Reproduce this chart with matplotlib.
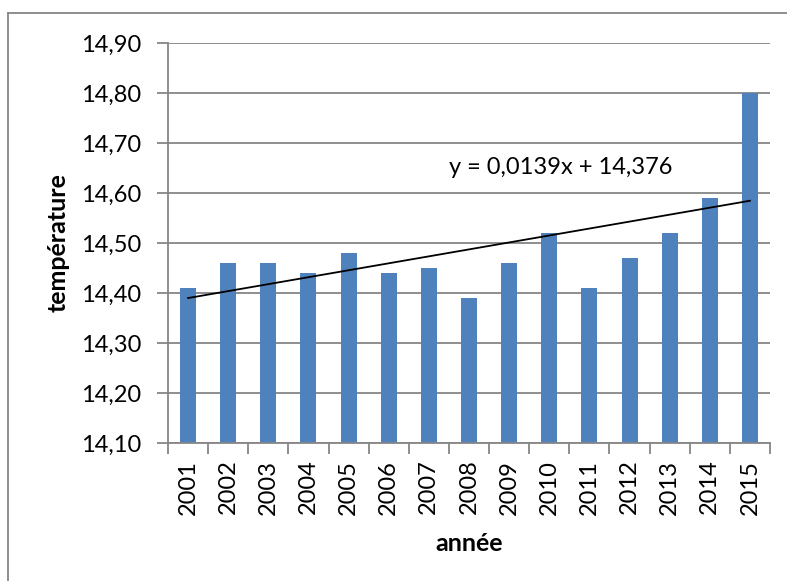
import matplotlib.pyplot as plt
import numpy as np
from matplotlib.lines import Line2D

annees = ['2001', '2002', '2003', '2004', '2005', '2006', '2007', '2008',
          '2009', '2010', '2011', '2012', '2013', '2014', '2015']
temperature = [14.41, 14.46, 14.46, 14.44, 14.48, 14.44, 14.45, 14.39,
               14.46, 14.52, 14.41, 14.47, 14.52, 14.59, 14.80]
pente = 0.0139
origine = 14.376

plt.rcParams['font.family'] = ['Lato', 'DejaVu Sans']
gris = '#868686'
fs = 17

fig = plt.figure(figsize=(7.87, 5.81), dpi=100)
ax = fig.add_axes([168/787, 1-443/581, (770-168)/787, 400/581])

x = np.arange(len(annees))
ax.bar(x, temperature, width=0.4, color='#4F81BD', zorder=2)

# courbe de tendance linéaire (x = 1..15)
rang = x + 1
ax.plot(x, pente*rang + origine, color='black', lw=1.3, zorder=3)
ax.text(6.5, 14.65, 'y = 0,0139x + 14,376', fontsize=fs, va='center', ha='left')

ax.set_ylim(14.10, 14.90)
ax.set_xlim(-0.5, len(annees) - 0.5)
yt = np.arange(14.10, 14.901, 0.10)
ax.set_yticks(yt)
ax.set_yticklabels([f'{v:.2f}'.replace('.', ',') for v in yt], fontsize=fs)
ax.set_xticks(x)
ax.set_xticklabels(annees, rotation=90, fontsize=fs)
ax.set_xticks(np.arange(-0.5, len(annees)), minor=True)
ax.tick_params(axis='x', which='major', length=0, pad=12)
ax.tick_params(axis='x', which='minor', length=8, color=gris, width=1.3)
ax.tick_params(axis='y', length=8, color=gris, width=1.3, pad=11)

ax.grid(axis='y', color=gris, lw=1.3, zorder=0)
ax.set_axisbelow(True)
for s in ['top', 'right']:
    ax.spines[s].set_visible(False)
for s in ['left', 'bottom']:
    ax.spines[s].set_color(gris)
    ax.spines[s].set_linewidth(1.3)

ax.set_ylabel('température', fontsize=18, fontweight='bold')
ax.yaxis.set_label_coords(-0.163, 0.5)
ax.set_xlabel('année', fontsize=18, fontweight='bold', va='top')
ax.xaxis.set_label_coords(0.5, -0.2225)

# cadre du graphique (bords gauche et haut visibles)
fig.add_artist(Line2D([8/787, 8/787], [0, 1-13/581], color=gris, lw=1.3))
fig.add_artist(Line2D([8/787, 1], [1-13/581, 1-13/581], color=gris, lw=1.3))

fig.savefig('out.png', dpi=100)
